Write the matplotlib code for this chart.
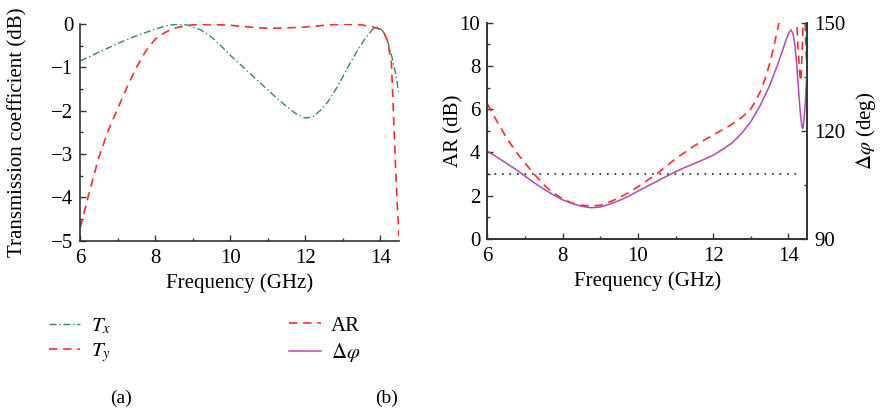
import numpy as np
import matplotlib
matplotlib.use('Agg')
import matplotlib.pyplot as plt
from matplotlib.lines import Line2D

plt.rcParams['font.family'] = 'serif'
plt.rcParams['font.serif'] = ['Liberation Serif', 'DejaVu Serif']
plt.rcParams['mathtext.fontset'] = 'stix'

#### (a) transmission coefficients
f_tx = [6.0, 6.5, 7.0, 7.5, 8.0, 8.3, 8.6, 8.9, 9.2, 9.5, 9.75, 10.0, 10.25, 10.5,
        10.75, 11.0, 11.25, 11.5, 11.75, 12.0, 12.2, 12.4, 12.6, 12.8, 13.0, 13.2,
        13.4, 13.6, 13.8, 13.9, 14.0, 14.1, 14.2, 14.3, 14.4, 14.5]
tx = [-0.85, -0.65, -0.45, -0.27, -0.12, -0.04, 0.0, -0.03, -0.13, -0.3, -0.5,
      -0.72, -0.92, -1.12, -1.32, -1.52, -1.72, -1.9, -2.07, -2.17, -2.14, -2.0,
      -1.8, -1.53, -1.22, -0.9, -0.6, -0.33, -0.12, -0.07, -0.1, -0.2, -0.4,
      -0.72, -1.1, -1.6]

f_ty = [6.0, 6.25, 6.5, 6.75, 7.0, 7.25, 7.5, 7.75, 8.0, 8.25, 8.5, 8.75, 9.0, 9.5,
        10.0, 10.5, 11.0, 11.5, 12.0, 12.5, 13.0, 13.5, 13.8, 14.0, 14.1, 14.2,
        14.3, 14.35, 14.4, 14.45, 14.5]
ty = [-4.7, -3.85, -3.06, -2.45, -1.95, -1.45, -1.0, -0.62, -0.35, -0.2, -0.1,
      -0.05, -0.02, -0.01, -0.03, -0.07, -0.1, -0.09, -0.07, -0.03, 0.0, -0.02,
      -0.07, -0.12, -0.2, -0.4, -0.9, -2.0, -3.1, -4.1, -4.9]

#### (b) axial ratio and phase difference
f_ar = [6.0, 6.25, 6.5, 6.75, 7.0, 7.25, 7.5, 7.75, 8.0, 8.25, 8.5, 8.75, 9.0, 9.25,
        9.5, 9.75, 10.0, 10.25, 10.5, 10.75, 11.0, 11.25, 11.5, 11.75, 12.0, 12.25,
        12.5, 12.75, 13.0, 13.1, 13.25, 13.4, 13.5, 13.6, 13.7, 13.8, 14.0, 14.2,
        14.25, 14.3, 14.33, 14.36, 14.4, 14.43, 14.46, 14.5]
ar = [6.25, 5.45, 4.7, 4.05, 3.5, 2.98, 2.5, 2.12, 1.85, 1.65, 1.55, 1.52, 1.55,
      1.7, 1.9, 2.13, 2.4, 2.7, 3.0, 3.35, 3.7, 4.0, 4.3, 4.55, 4.8, 5.05, 5.3,
      5.6, 6.0, 6.3, 6.8, 7.5, 8.1, 8.8, 9.6, 10.4, 12.0, 11.0, 9.0, 7.6, 7.3,
      8.5, 10.5, 11.0, 9.0, 7.5]

f_ph = [6.0, 6.25, 6.5, 6.75, 7.0, 7.25, 7.5, 7.75, 8.0, 8.25, 8.5, 8.75, 9.0, 9.25,
        9.5, 9.75, 10.0, 10.25, 10.5, 10.75, 11.0, 11.25, 11.5, 11.75, 12.0, 12.25,
        12.5, 12.75, 13.0, 13.25, 13.5, 13.7, 13.85, 13.95, 14.02, 14.07, 14.12,
        14.17, 14.22, 14.27, 14.32, 14.36, 14.38, 14.41, 14.45, 14.5]
dphi = [114.3, 112.7, 111.0, 109.3, 107.4, 105.5, 103.8, 102.2, 100.8, 99.8, 99.0,
        98.6, 98.8, 99.6, 100.6, 101.8, 103.2, 104.6, 105.9, 107.3, 108.6, 109.8,
        110.9, 112.0, 113.2, 114.8, 116.6, 119.2, 122.5, 127.0, 132.5, 138.0,
        142.5, 145.6, 147.4, 148.0, 147.0, 144.0, 138.5, 131.0, 124.5, 121.0,
        120.6, 122.5, 128.0, 138.0]

ar_limit = 3

green = '#2e8b57'
red = '#ff2a2a'
purple = '#b347b3'
spine_c = '#333333'
fs = 15

fig = plt.figure(figsize=(8.87, 4.13), dpi=100)
ax1 = fig.add_axes([0.0905, 0.4172, 0.3593, 0.5247])
ax2 = fig.add_axes([0.5494, 0.422, 0.3607, 0.523])
ax3 = ax2.twinx()

ax1.plot(f_tx, tx, color=green, lw=1.0, dashes=(5, 2, 1, 2))
ax1.plot(f_ty, ty, color=red, lw=1.2, dashes=(5, 3.5))
ax1.set_xlim(6, 14.5)
ax1.set_ylim(-5, 0)
ax1.set_xticks([6, 8, 10, 12, 14])
ax1.set_xticks([7, 9, 11, 13], minor=True)
ax1.set_yticks([0, -1, -2, -3, -4, -5])
ax1.set_yticks(np.arange(-4.5, 0, 1.0), minor=True)
ax1.set_xlabel('Frequency (GHz)', fontsize=fs)
ax1.set_ylabel('Transmission coefficient (dB)', fontsize=fs)
ax1.yaxis.set_label_coords(-0.165, 0.5)
ax1.spines['top'].set_visible(False)
ax1.spines['right'].set_visible(False)

ax2.plot(f_ar, ar, color=red, lw=1.2, dashes=(5, 3.5))
ax2.plot([6, 14.3], [ar_limit, ar_limit], color='#222222', lw=1.2, dashes=(1, 3.5))
ax3.plot(f_ph, dphi, color=purple, lw=1.1)
ax2.set_xlim(6, 14.5)
ax2.set_ylim(0, 10)
ax3.set_ylim(90, 150)
ax2.set_xticks([6, 8, 10, 12, 14])
ax2.set_xticks([7, 9, 11, 13], minor=True)
ax2.set_yticks([0, 2, 4, 6, 8, 10])
ax2.set_yticks([1, 3, 5, 7, 9], minor=True)
ax3.set_yticks([90, 120, 150])
ax3.set_yticks([105, 135], minor=True)
ax2.set_xlabel('Frequency (GHz)', fontsize=fs)
ax2.set_ylabel('AR (dB)', fontsize=fs)
ax2.yaxis.set_label_coords(-0.076, 0.5)
ax3.set_ylabel(r'$\Delta\varphi$ (deg)', fontsize=fs, labelpad=6)
ax2.spines['top'].set_visible(False)
ax3.spines['top'].set_visible(False)

for ax in (ax1, ax2, ax3):
    for s in ax.spines.values():
        s.set_color(spine_c)
        s.set_linewidth(1.2)
    ax.tick_params(which='both', direction='in', labelsize=fs, color=spine_c, width=1.0)
    ax.tick_params(which='major', length=4)
    ax.tick_params(which='minor', length=2.5)
    ax.tick_params(axis='x', pad=6)
    ax.tick_params(axis='y', pad=5)

h_a = [Line2D([], [], color=green, lw=1.0, dashes=(5, 2, 1, 2)),
       Line2D([], [], color=red, lw=1.2, dashes=(5, 3.5))]
fig.legend(h_a, [r'$T_x$', r'$T_y$'], loc='upper left', bbox_to_anchor=(0.034, 0.28),
           frameon=False, fontsize=fs, handlelength=1.5, handletextpad=0.5, labelspacing=0.25)
h_b = [Line2D([], [], color=red, lw=1.2, dashes=(5, 3.5)),
       Line2D([], [], color=purple, lw=1.1)]
fig.legend(h_b, ['AR', r'$\Delta\varphi$'], loc='upper left', bbox_to_anchor=(0.305, 0.28),
           frameon=False, fontsize=fs, handlelength=1.5, handletextpad=0.5, labelspacing=0.25)

fig.text(0.136, 0.025, '(a)', ha='center', fontsize=14)
fig.text(0.436, 0.025, '(b)', ha='center', fontsize=14)

fig.savefig('out.png', dpi=100)
